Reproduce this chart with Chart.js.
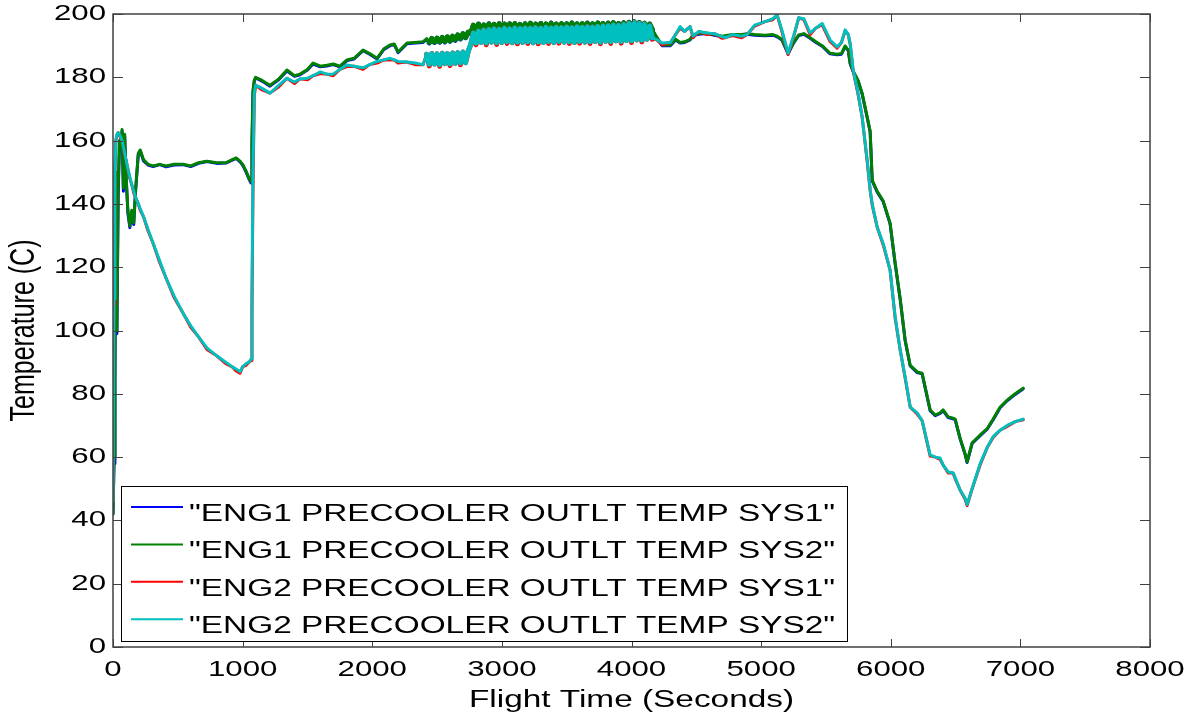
<!DOCTYPE html>
<html>
<head>
<meta charset="utf-8">
<script src="https://cdn.jsdelivr.net/npm/chart.js@4.4.1/dist/chart.umd.min.js"></script>
<style>
  html, body { margin:0; padding:0; background:#fff; }
  #wrap { width:1198px; height:721px; }
</style>
</head>
<body>
<div id="wrap"><canvas id="chart" width="1198" height="721"></canvas></div>
<script>
// flight time, seconds (shared by all four traces)
const timeSec = [
  0,8,15,22,30,40,50,60,70,80,90,100,115,130,145,160,175,195,210,235,
  270,310,360,410,470,540,600,660,725,800,870,920,950,980,1000,1025,1050,1065,1072,1080,
  1090,1100,1150,1211,1280,1342,1400,1443,1500,1543,1600,1650,1698,1750,1805,1860,1929,1980,2037,2090,
  2137,2170,2199,2268,2330,2392,
  2420,2440,2460,2480,2500,2520,2540,2560,2580,2600,2620,2640,2660,2680,2700,2720,2740,2760,
  2780,2800,2820,2840,2860,2880,2900,2920,2940,2960,2980,3000,3020,3040,3060,3080,3100,3120,3140,3160,
  3180,3200,3220,3240,3260,3280,3300,3320,3340,3360,3380,3400,3420,3440,3460,3480,3500,3520,3540,3560,
  3580,3600,3620,3640,3660,3680,3700,3720,3740,3760,3780,3800,3820,3840,3860,3880,3900,3920,3940,3960,
  3980,4000,4020,4040,4060,4080,4100,4120,4140,4160,
  4190,4236,4300,4340,4375,4410,4452,4475,4520,4580,4640,4700,4730,4780,4850,4892,4950,5030,5090,5123,
  5160,5208,5250,5290,5330,5378,5420,5471,5532,5586,5620,5648,5672,5687,5710,5748,5779,5818,5841,5857,
  5895,5941,5995,6034,6073,6111,6150,6204,6242,6304,6343,6381,6404,6443,6481,6497,6535,6574,6589,6628,
  6690,6744,6790,6844,6898,6960,7022
];

// ENG1 SYS1 (blue)
const eng1Sys1 = [
  42,58,83,148,99,143,159,157,163,144,161.5,149,137,132.5,137.5,133.5,144.5,155.5,156.8,153.6,
  152.3,151.8,152.4,151.7,152.3,152.4,151.8,152.8,153.4,152.8,152.9,153.8,154.4,153.3,152.3,150.2,147.8,146.6,158,175,
  178.8,179.8,178.8,177.2,179.3,182,180.3,180.8,182.3,184.2,183.3,183.6,184,183.3,185.3,185.8,188.4,187.3,185.8,188.8,
  190,190.3,187.8,190.6,190.8,191,
  192,190.9,192.2,191,192.3,191.1,192.5,191.2,192.7,191.4,192.9,191.7,193.3,192.1,193.7,192.5,194.2,193.9,
  196.4,194.3,196.8,194.4,196.5,194.7,196.9,194.3,196.7,194.6,196.9,194.5,196.8,194.6,196.9,194.5,196.9,194.7,196.7,194.3,
  196.9,194.8,197,194.6,196.8,194.3,197,194.7,196.8,194.6,197.1,194.3,196.8,194.8,196.9,194.6,196.9,194.3,197.1,194.7,
  196.9,194.6,196.9,194.8,197.1,194.3,196.9,194.7,197.1,194.6,197,194.6,197.1,194.6,197.2,194.7,197,194.7,197.2,194.7,
  197.3,194.8,197.5,194.8,197.3,194.8,197,195,196.8,195,
  192.8,190,190,191.8,190.8,191,191.8,193.3,193.6,193.8,193.3,192.8,193,193.3,193.3,193.6,193.3,193.1,193.3,192.8,
  191.8,187.4,190.8,193.2,193.6,192.3,191.1,189.8,187.4,187.1,187.3,189.7,188.4,184.3,181.8,178.8,174.8,167.3,162.8,147.3,
  143.8,140.8,133.7,121.1,109.8,96.8,88.8,86.7,86.3,74.7,73.1,73.8,74.7,72.5,72.1,71.8,65.8,60.8,58.3,64.3,
  66.8,68.8,71.8,75.6,77.8,79.8,81.6
];

// ENG1 SYS2 (green)
const eng1Sys2 = [
  42,60,85,150,100,145,160,158,163.5,145,162,150,138,133,138,134,145,156,157,154,
  152.5,152,152.5,152,152.5,152.5,152,153,153.5,153,153,154,154.5,153.5,152.5,150.5,148,147,160,176,
  179,180,179,177.5,179.5,182.3,180.5,181,182.5,184.5,183.5,183.8,184.2,183.5,185.5,186,188.6,187.5,186,189,
  190.2,190.5,188,190.8,191,191.2,
  192.2,191,192.3,191.1,192.4,191.2,192.6,191.3,192.8,191.5,193,191.8,193.4,192.2,193.8,192.6,194.3,194,
  196.5,194.5,196.8,194.4,196.6,194.7,196.9,194.5,196.7,194.6,197,194.5,196.8,194.8,196.9,194.5,197,194.7,196.7,194.5,
  196.9,194.8,197.1,194.6,196.8,194.5,197,194.7,196.9,194.6,197.1,194.5,196.8,194.8,197,194.6,196.9,194.5,197.2,194.7,
  196.9,194.6,197,194.8,197.1,194.5,196.9,194.7,197.2,194.6,197,194.8,197.1,194.6,197.3,194.7,197,194.9,197.2,194.7,
  197.4,194.8,197.6,195,197.3,194.8,197.1,195,196.8,195.2,
  193,190.2,190.2,192,191,191.2,192,193.5,193.8,194,193.5,193,193.2,193.5,193.5,193.8,193.5,193.3,193.5,193,
  192,187.6,191,193.4,193.8,192.5,191.3,190,187.6,187.3,187.5,189.9,188.6,184.5,182,179,175,167.5,163,147.5,
  144,141,133.9,121.3,110,97,89,86.9,86.5,74.9,73.3,74,74.9,72.7,72.3,72,66,61,58.5,64.5,
  67,69,72,75.8,78,80,81.8
];

// ENG2 SYS1 (red)
const eng2Sys1 = [
  46,108,150,160,161.5,162.5,162,160.5,160,158,155.5,154,151,148,146,143.5,142,140,138,136,
  131.5,127.5,121.5,116.5,110.5,105.5,101,98,94,92,89.5,88.5,87.2,86.5,88.5,89,90,90.5,106,145,
  174,177.5,176,175,177,179.7,178,179.5,179.2,180.5,181.2,181,180.5,182.5,183.4,183.5,182.5,184,184.5,185.5,
  185.5,185.5,184.5,184.8,184,184,
  187.3,183.6,187.5,184.2,187.4,183.5,187.6,184.3,187.5,183.7,187.7,184.4,187.8,184,188,184.6,188.2,190.3,
  194,190.3,194.6,191,194.9,190.3,195.1,191.1,195.3,190.4,195.2,191,195.5,190.7,195.3,190.9,195.6,190.6,195.4,191,
  195.6,190.7,195.5,190.9,195.7,190.6,195.5,191,195.8,190.7,195.6,191,195.8,190.8,195.7,191.1,195.9,190.7,195.7,191,
  196,190.8,195.8,191.1,196,190.7,195.9,191.3,196.1,190.6,196.2,191.4,196.3,190.7,196.5,191.5,196.4,190.8,196.7,191.6,
  197,191,197.3,191.8,197,191.2,196.8,192,196.2,192,
  192,190.3,191,193.5,195.5,194.5,196,192.5,194.5,193.5,193.8,192.3,192.6,193.2,192.5,193.5,196.2,197.6,198.2,199.7,
  194.5,187.2,192.7,198.8,198.2,193.5,195.5,196.6,191.3,189.2,191,194.6,193.5,190.4,182,174.6,167.5,153.5,144.4,139.6,
  132.7,127.2,119.1,103.9,93.8,85,75.8,73.6,71.5,60.3,60,59.3,57.5,55,55,53.2,49.6,46.7,44.7,50,
  57.6,63,66.2,68.5,69.7,71.2,71.8
];

// ENG2 SYS2 (cyan)
const eng2Sys2 = [
  46,110,150,160,162,162.5,162,161,160,158,156,154,151,148.5,146,144,142,140,138.5,136,
  132,127.5,122,116.5,111,105.5,101.5,98,94.5,92,90,88.5,87.8,87,88.5,89.5,90,91,110,150,
  175,177.5,176.5,175,177.5,179.7,178.5,179.5,179.7,180.5,181.7,181,181,182.5,183.9,183.5,183,184,185,185.5,
  186,185.5,185,184.8,184.5,184,
  187.3,184.1,187.5,184.2,187.4,184,187.6,184.3,187.5,184.2,187.7,184.4,187.8,184.5,188,184.6,188.2,190.5,
  194,190.8,194.6,191,194.9,190.8,195.1,191.1,195.3,190.9,195.2,191,195.5,191.2,195.3,190.9,195.6,191.1,195.4,191,
  195.6,191.2,195.5,190.9,195.7,191.1,195.5,191,195.8,191.2,195.6,191,195.8,191.3,195.7,191.1,195.9,191.2,195.7,191,
  196,191.3,195.8,191.1,196,191.2,195.9,191.3,196.1,191.1,196.2,191.4,196.3,191.2,196.5,191.5,196.4,191.3,196.7,191.6,
  197,191.5,197.3,191.8,197,191.7,196.8,192,196.2,192.5,
  192,190.8,191,193.5,196,194.5,196,193,194.5,194,193.8,192.8,192.6,193.5,193,193.5,196.5,197.6,198.5,199.7,
  195,187.6,193,198.8,198.5,194,195.5,197,191.8,189.6,191,195,193.5,190.8,182.3,175,167.5,153.9,144.4,140,
  132.7,127.6,119.1,104.3,93.8,85.3,75.8,74,71.5,60.7,60,59.7,57.5,55.3,55,53.5,49.6,47,45,50,
  58,63,66.5,68.5,70,71.2,72
];

const seriesLabels = [
  '"ENG1 PRECOOLER OUTLT TEMP SYS1"',
  '"ENG1 PRECOOLER OUTLT TEMP SYS2"',
  '"ENG2 PRECOOLER OUTLT TEMP SYS1"',
  '"ENG2 PRECOOLER OUTLT TEMP SYS2"'
];
const seriesColors = ['#0000ff', '#008000', '#ff0000', '#00bfbf'];
const xTickValues = [0,1000,2000,3000,4000,5000,6000,7000,8000];
const yTickValues = [0,20,40,60,80,100,120,140,160,180,200];
const xTitle = 'Flight Time (Seconds)';
const yTitle = 'Temperature (C)';

const allSeries = [eng1Sys1, eng1Sys2, eng2Sys1, eng2Sys2];

// the picture's text is horizontally stretched Helvetica; emulate with a scale
const SX = 1.42;
const FONT = '"Liberation Sans", Arial, Helvetica, sans-serif';

function stretchedText(ctx, str, x, y, size, align, baseline, rot) {
  ctx.save();
  ctx.translate(x, y);
  ctx.scale(SX, 1);
  if (rot) ctx.rotate(rot);
  ctx.font = size + 'px ' + FONT;
  ctx.textAlign = align;
  ctx.textBaseline = baseline;
  ctx.fillStyle = '#000';
  ctx.fillText(str, 0, 0);
  ctx.restore();
}

// the cruise segment is sensor noise so dense it prints as a solid band:
// thicken the short steep segments there so the zigzag closes up
function noisyWidth(sc) {
  const dx = sc.p1.x - sc.p0.x;
  const dy = Math.abs(sc.p1.y - sc.p0.y);
  return (sc.p0.parsed.x >= 2400 && sc.p1.parsed.x <= 4170 && dx < 4 && dy > 4) ? 5 : undefined;
}

const matlabAxes = {
  id: 'matlabAxes',
  afterDatasetsDraw(chart) {
    const { ctx, chartArea: a, scales: { x, y } } = chart;
    ctx.save();

    // frame
    ctx.strokeStyle = '#404040';
    ctx.lineWidth = 1.5;
    ctx.strokeRect(a.left, a.top, a.right - a.left, a.bottom - a.top);

    // inward ticks on all four sides
    ctx.beginPath();
    x.ticks.forEach(t => {
      const px = Math.round(x.getPixelForValue(t.value)) + 0.5;
      ctx.moveTo(px, a.bottom); ctx.lineTo(px, a.bottom - 8);
      ctx.moveTo(px, a.top); ctx.lineTo(px, a.top + 8);
    });
    y.ticks.forEach(t => {
      const py = Math.round(y.getPixelForValue(t.value)) + 0.5;
      ctx.moveTo(a.left, py); ctx.lineTo(a.left + 10, py);
      ctx.moveTo(a.right, py); ctx.lineTo(a.right - 10, py);
    });
    ctx.lineWidth = 1;
    ctx.stroke();

    // tick labels
    x.ticks.forEach(t => {
      stretchedText(ctx, String(t.value), x.getPixelForValue(t.value), a.bottom + 12, 22, 'center', 'top');
    });
    y.ticks.forEach(t => {
      stretchedText(ctx, String(t.value), a.left - 7, y.getPixelForValue(t.value), 22, 'right', 'middle');
    });

    // axis titles
    stretchedText(ctx, xTitle, (a.left + a.right) / 2, 707, 23.5, 'center', 'alphabetic');
    stretchedText(ctx, yTitle, 24, (a.top + a.bottom) / 2, 25, 'center', 'middle', -Math.PI / 2);

    // legend box
    const L = { left: 121, top: 486, right: 847, bottom: 641 };
    ctx.fillStyle = '#fff';
    ctx.fillRect(L.left, L.top, L.right - L.left, L.bottom - L.top);
    ctx.strokeStyle = '#000';
    ctx.lineWidth = 1;
    ctx.strokeRect(L.left + 0.5, L.top + 0.5, L.right - L.left, L.bottom - L.top);
    chart.data.datasets.forEach((ds, i) => {
      const ly = 507 + i * 37.4;
      ctx.strokeStyle = ds.borderColor;
      ctx.lineWidth = 2;
      ctx.beginPath();
      ctx.moveTo(131, ly); ctx.lineTo(183, ly);
      ctx.stroke();
      stretchedText(ctx, ds.label, 189, ly + 14, 23.5, 'left', 'alphabetic');
    });

    ctx.restore();
  }
};

new Chart(document.getElementById('chart'), {
  type: 'line',
  data: {
    datasets: allSeries.map((vals, i) => ({
      label: seriesLabels[i],
      data: timeSec.map((t, k) => ({ x: t, y: vals[k] })),
      borderColor: seriesColors[i],
      backgroundColor: seriesColors[i],
      borderWidth: 3,
      borderJoinStyle: 'round',
      borderCapStyle: 'round',
      pointRadius: 0,
      tension: 0,
      segment: { borderWidth: noisyWidth },
      order: 4 - i   // MATLAB draws later traces on top
    }))
  },
  options: {
    responsive: false,
    animation: false,
    devicePixelRatio: 1,
    layout: { padding: { left: 113, right: 48, top: 14, bottom: 74 } },
    plugins: { legend: { display: false }, tooltip: { enabled: false } },
    scales: {
      x: {
        type: 'linear', min: 0, max: 8000,
        afterBuildTicks: s => { s.ticks = xTickValues.map(v => ({ value: v })); },
        afterFit: s => { s.height = 0; },
        ticks: { display: false },
        grid: { display: false },
        border: { display: false }
      },
      y: {
        type: 'linear', min: 0, max: 200,
        afterBuildTicks: s => { s.ticks = yTickValues.map(v => ({ value: v })); },
        afterFit: s => { s.width = 0; },
        ticks: { display: false },
        grid: { display: false },
        border: { display: false }
      }
    }
  },
  plugins: [matlabAxes]
});
</script>
</body>
</html>
